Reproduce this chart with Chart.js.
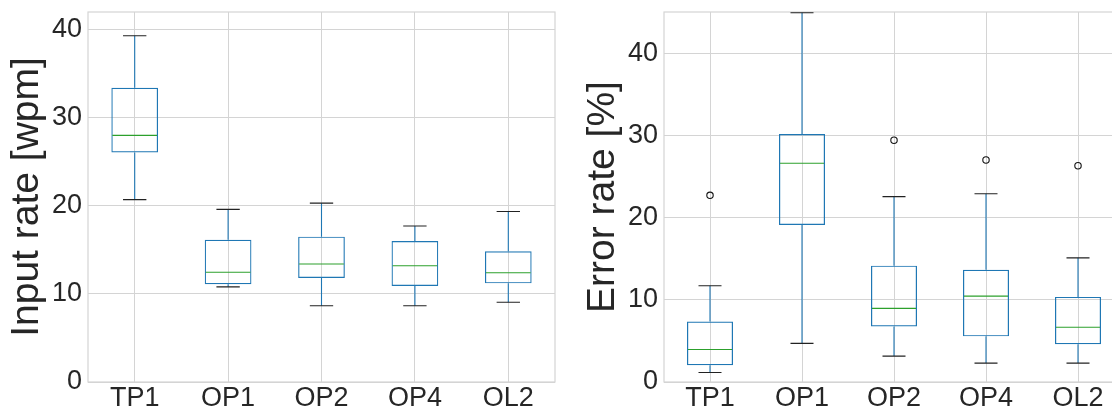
<!DOCTYPE html>
<html>
<head>
<meta charset="utf-8">
<script src="https://cdn.jsdelivr.net/npm/chart.js@4.4.1/dist/chart.umd.min.js"></script>
<style>
  html, body { margin: 0; padding: 0; background: #fff; overflow: hidden; }
  body { width: 1112px; height: 410px; position: relative; }
  canvas { position: absolute; top: 0; }
  #input-chart { left: 0; }
  #error-chart { left: 576px; }
</style>
</head>
<body>
<canvas id="input-chart" width="560" height="410"></canvas>
<canvas id="error-chart" width="548" height="410"></canvas>
<script>
const categories = ["TP1", "OP1", "OP2", "OP4", "OL2"];

// input rate [wpm] : whisker ends, quartiles, medians
const inputLow    = [20.7, 10.8, 8.65, 8.65, 9.05];
const inputQ1     = [26.05, 11.1, 11.8, 10.9, 11.2];
const inputMedian = [28.0, 12.45, 13.4, 13.2, 12.4];
const inputQ3     = [33.4, 16.15, 16.5, 16.0, 14.85];
const inputHigh   = [39.3, 19.6, 20.3, 17.7, 19.35];
const inputOutliers = [[], [], [], [], []];

// error rate [%]
const errorLow    = [1.15, 4.7, 3.15, 2.3, 2.3];
const errorQ1     = [2.05, 19.1, 6.75, 5.55, 4.6];
const errorMedian = [3.95, 26.6, 8.95, 10.45, 6.65];
const errorQ3     = [7.35, 30.15, 14.15, 13.65, 10.35];
const errorHigh   = [11.7, 44.9, 22.55, 22.9, 15.1];
const errorOutliers = [[22.7], [], [29.4], [27.0], [26.3]];

const yTicks = [0, 10, 20, 30, 40];

const textColor = "#262626";
const gridColor = "#d4d4d4";
const boxColor = "#1f77b4";
const medianColor = "#2ca02c";
const fontFamily = "'Liberation Sans', Arial, sans-serif";

// whiskers, caps, medians and fliers on top of the floating-bar boxes
function boxPartsPlugin(low, median, high, outliers) {
    return {
        id: "boxParts",
        beforeDatasetsDraw(chart) {
            const a = chart.chartArea;
            const ctx = chart.ctx;
            ctx.save();
            ctx.strokeStyle = gridColor;
            ctx.lineWidth = 1.2;
            ctx.strokeRect(a.left, a.top, a.right - a.left, a.bottom - a.top);
            ctx.restore();
        },
        afterDatasetsDraw(chart) {
            const ctx = chart.ctx;
            const x = chart.scales.x;
            const y = chart.scales.y;
            const meta = chart.getDatasetMeta(0);
            const catWidth = (x.right - x.left) / categories.length;
            const capHalf = catWidth * 0.125;
            ctx.save();
            ctx.lineWidth = 1.1;
            categories.forEach((c, i) => {
                const bar = meta.data[i];
                const cx = x.getPixelForValue(i);
                const half = bar.width / 2;
                const top = Math.min(bar.base, bar.y);
                const bottom = Math.max(bar.base, bar.y);

                // whiskers
                ctx.strokeStyle = boxColor;
                ctx.beginPath();
                ctx.moveTo(cx, y.getPixelForValue(high[i]));
                ctx.lineTo(cx, top);
                ctx.moveTo(cx, bottom);
                ctx.lineTo(cx, y.getPixelForValue(low[i]));
                ctx.stroke();

                // caps
                ctx.strokeStyle = "#222";
                ctx.beginPath();
                [high[i], low[i]].forEach(v => {
                    const py = y.getPixelForValue(v);
                    ctx.moveTo(cx - capHalf, py);
                    ctx.lineTo(cx + capHalf, py);
                });
                ctx.stroke();

                // median
                ctx.strokeStyle = medianColor;
                ctx.beginPath();
                const my = y.getPixelForValue(median[i]);
                ctx.moveTo(cx - half + 1, my);
                ctx.lineTo(cx + half - 1, my);
                ctx.stroke();

                // fliers
                ctx.strokeStyle = "#111";
                outliers[i].forEach(v => {
                    ctx.beginPath();
                    ctx.arc(cx, y.getPixelForValue(v), 3.2, 0, Math.PI * 2);
                    ctx.stroke();
                });
            });
            ctx.restore();
        }
    };
}

function makeBoxChart(canvasId, title, yMax, low, q1, median, q3, high, outliers, rightPad) {
    const ctx = document.getElementById(canvasId).getContext("2d");
    return new Chart(ctx, {
        type: "bar",
        data: {
            labels: categories,
            datasets: [{
                data: categories.map((c, i) => [q1[i], q3[i]]),
                backgroundColor: "rgba(0,0,0,0)",
                borderColor: boxColor,
                borderWidth: 1.2,
                borderSkipped: false,
                barPercentage: 0.5,
                categoryPercentage: 1
            }]
        },
        options: {
            responsive: false,
            animation: false,
            devicePixelRatio: 1,
            layout: { padding: { top: 12, right: rightPad, left: 0, bottom: 0 } },
            plugins: {
                legend: { display: false },
                tooltip: { enabled: false }
            },
            scales: {
                x: {
                    grid: { color: gridColor, offset: false, drawTicks: false },
                    border: { display: false },
                    ticks: {
                        color: textColor,
                        font: { family: fontFamily, size: 27 },
                        padding: 0
                    },
                    afterFit(scale) {
                        scale.height = 28;
                        scale.paddingLeft = 0;
                        scale.paddingRight = 0;
                    }
                },
                y: {
                    min: 0,
                    max: yMax,
                    grid: { color: gridColor, drawTicks: false },
                    border: { display: false },
                    ticks: {
                        color: textColor,
                        font: { family: fontFamily, size: 27 },
                        padding: 6,
                        includeBounds: false
                    },
                    afterBuildTicks(scale) {
                        scale.ticks = yTicks.map(v => ({ value: v }));
                    },
                    title: {
                        display: true,
                        text: title,
                        color: textColor,
                        font: { family: fontFamily, size: 39 },
                        padding: { top: 4, bottom: 0 }
                    },
                    afterFit(scale) {
                        scale.width = 88;
                        scale.paddingTop = 0;
                        scale.paddingBottom = 0;
                    }
                }
            }
        },
        plugins: [boxPartsPlugin(low, median, high, outliers)]
    });
}

makeBoxChart("input-chart", "Input rate [wpm]", 42,
    inputLow, inputQ1, inputMedian, inputQ3, inputHigh, inputOutliers, 5);
makeBoxChart("error-chart", "Error rate [%]", 45,
    errorLow, errorQ1, errorMedian, errorQ3, errorHigh, errorOutliers, 0);
</script>
</body>
</html>
